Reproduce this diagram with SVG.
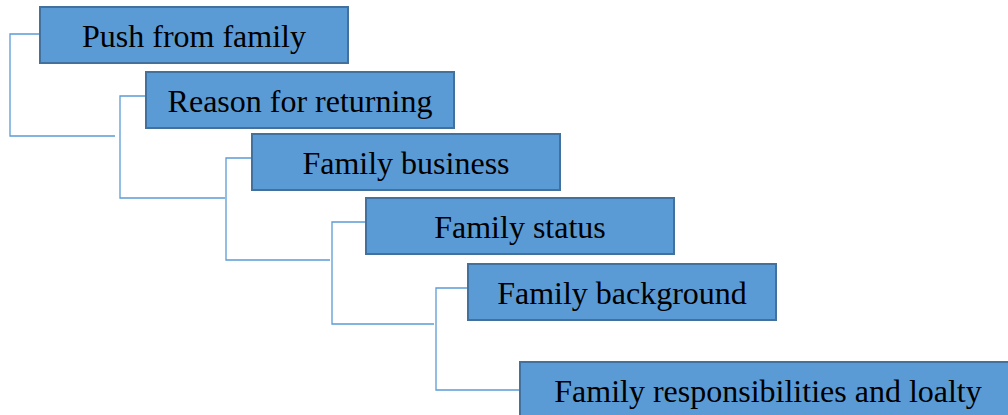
<svg xmlns="http://www.w3.org/2000/svg" width="1008" height="415" viewBox="0 0 1008 415">
<style>
.box{fill:#5B9BD5;stroke:#41719C;stroke-width:2}
.lbl{font-family:"Liberation Serif","Times New Roman",serif;font-size:32px;fill:#000;text-anchor:middle}
.con{fill:none;stroke:#5B9BD5;stroke-width:1.3}
</style>
<rect width="1008" height="415" fill="#fff"/>
<g id="connectors">
<path class="con" d="M40,34 H10 V136 H115"/>
<path class="con" d="M146,96 H120 V198 H225"/>
<path class="con" d="M252,158 H226 V260 H330"/>
<path class="con" d="M366,222 H332 V324 H434"/>
<path class="con" d="M468,288 H436 V390 H520"/>
</g>
<g id="n1"><rect class="box" x="40" y="7" width="308" height="56"/><text class="lbl" x="194" y="47">Push from family</text></g>
<g id="n2"><rect class="box" x="146" y="72" width="308" height="56"/><text class="lbl" x="300" y="112">Reason for returning</text></g>
<g id="n3"><rect class="box" x="252" y="134" width="308" height="56"/><text class="lbl" x="406" y="174">Family business</text></g>
<g id="n4"><rect class="box" x="366" y="198" width="308" height="56"/><text class="lbl" x="520" y="238">Family status</text></g>
<g id="n5"><rect class="box" x="468" y="264" width="308" height="56"/><text class="lbl" x="622" y="304">Family background</text></g>
<g id="n6"><rect class="box" x="520" y="362" width="497" height="56"/><text class="lbl" x="768" y="402">Family responsibilities and loalty</text></g>
</svg>
